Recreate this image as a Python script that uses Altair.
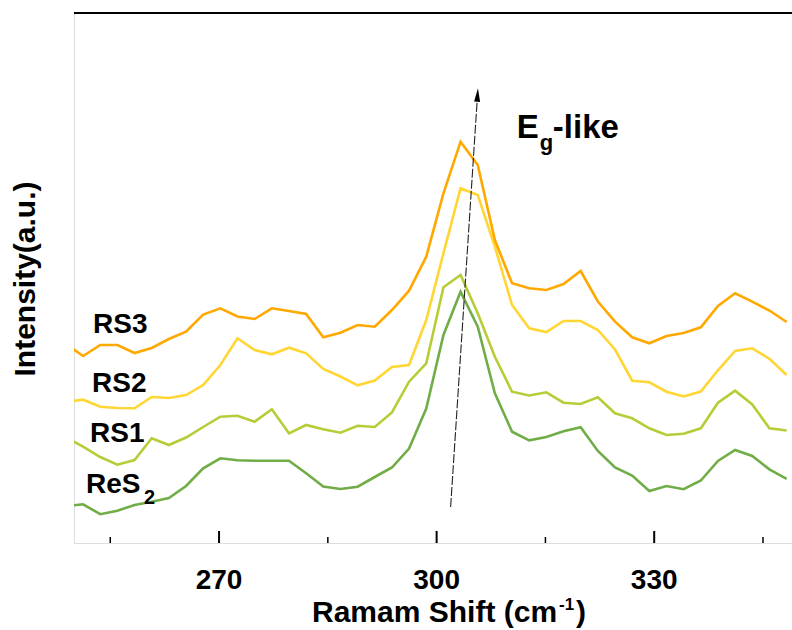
import altair as alt
import pandas as pd

# Raman shift of each sampled point (cm^-1)
shift = [248.88, 251.25, 253.62, 255.98, 258.35, 260.71, 263.08, 265.45, 267.81,
         270.18, 272.54, 274.91, 277.28, 279.64, 282.01, 284.37, 286.74, 289.11,
         291.47, 293.84, 296.20, 298.57, 300.94, 303.30, 305.67, 308.03, 310.40,
         312.77, 315.13, 317.50, 319.86, 322.23, 324.60, 326.96, 329.33, 331.69,
         334.06, 336.43, 338.79, 341.16, 343.52, 345.89, 348.26]

# Stacked spectra (arbitrary units, offset for display)
res2 = [37, 38.7, 28.8, 32.3, 38, 41.3, 45, 57, 74.7, 84.7, 82.7, 82.3, 82.3, 82.3,
        69.7, 56.5, 54, 56.3, 66, 75.5, 94.5, 134.5, 208, 251.3, 216.3, 149.7, 111.3,
        102.7, 106, 111.7, 115.7, 92, 75.5, 67.5, 52, 57, 53.8, 62.5, 82, 93, 87,
        73.7, 64.2]
rs1 = [105.5, 96.3, 86, 78.3, 83, 104.7, 98, 105.5, 116, 126.3, 127.2, 121.3, 133.7,
       109.7, 118, 113.7, 110.3, 117.2, 116, 130.5, 161.3, 179.7, 255.7, 268, 229.7,
       186.3, 151.3, 147.5, 150.7, 140.3, 139, 145.7, 129.7, 124.7, 114.7, 108, 109.3,
       114.7, 140.3, 152.3, 138.5, 114.7, 112.5]
rs2 = [141, 143.3, 136.3, 135, 134.7, 146, 145, 148, 158, 178, 204.7, 193, 188.7,
       195.3, 189.7, 174, 166.5, 157.7, 162.5, 176, 178, 223, 289.7, 354.7, 348, 296.3,
       238, 214.7, 211, 222, 222, 213, 193.5, 162.3, 160.7, 151.3, 146.5, 151.5, 172.7,
       192, 194.7, 184.2, 168]
rs3 = [199, 187, 198, 198, 190, 195, 204, 211.3, 228.5, 234.7, 226.5, 224, 234.7,
       232, 229, 205.7, 210.3, 218, 216.3, 233, 252.3, 286.3, 349.7, 401.3, 378, 303,
       259.7, 254.7, 253, 259, 272, 241.5, 221.3, 205.7, 199.7, 207, 210, 215.7, 237,
       249.7, 241.3, 232.5, 221]

series_names = ["ReS2", "RS1", "RS2", "RS3"]
series_colors = ["#70AD47", "#B8CC37", "#FFD633", "#FFA800"]

major_ticks = [270, 300, 330]
tick_labels = ["270", "300", "330"]
minor_ticks = [255, 285, 315, 345]

# Sample labels placed at the left of each trace
label_text = ["RS3", "RS2", "RS1", "ReS"]
label_x = [252.62, 252.48, 252.21, 251.65]
label_y = [210, 151, 101, 50]

# Shift arrow of the Eg-like mode
arrow_x = [301.93, 305.64]
arrow_y = [36, 448]

FONT = "Liberation Sans"
W, H = 718, 530
X_DOMAIN = [250, 349]
Y_DOMAIN = [0, 530]

rows = []
for name, vals in zip(series_names, [res2, rs1, rs2, rs3]):
    for s, v in zip(shift, vals):
        rows.append({"shift": s, "intensity": v, "sample": name})
spectra = pd.DataFrame(rows)

xs = alt.Scale(domain=X_DOMAIN, nice=False, zero=False)
ys = alt.Scale(domain=Y_DOMAIN, nice=False, zero=False)

lines = alt.Chart(spectra).mark_line(strokeWidth=2.6, clip=True).encode(
    x=alt.X("shift:Q", scale=xs,
            axis=alt.Axis(labels=False, ticks=False, grid=False, title=None,
                          domainColor="black", domainWidth=2)),
    y=alt.Y("intensity:Q", scale=ys,
            axis=alt.Axis(labels=False, ticks=False, grid=False, title=None,
                          domainColor="black", domainWidth=2)),
    color=alt.Color("sample:N", scale=alt.Scale(domain=series_names, range=series_colors),
                    legend=None),
    detail="sample:N",
)

# Inward-pointing ticks and their labels
major = alt.Chart(pd.DataFrame({"t": major_ticks})).mark_rule(
    color="black", strokeWidth=2).encode(
    x=alt.X("t:Q", scale=xs, axis=None), y=alt.value(H - 12), y2=alt.value(H))
minor = alt.Chart(pd.DataFrame({"t": minor_ticks})).mark_rule(
    color="black", strokeWidth=1.5).encode(
    x=alt.X("t:Q", scale=xs, axis=None), y=alt.value(H - 6), y2=alt.value(H))
tick_text = alt.Chart(pd.DataFrame({"t": major_ticks, "s": tick_labels})).mark_text(
    font=FONT, fontSize=28, fontWeight="bold", align="center", baseline="alphabetic",
    color="black").encode(
    x=alt.X("t:Q", scale=xs, axis=None), y=alt.value(H + 46), text="s:N")

top_border = alt.Chart(pd.DataFrame({"a": [0]})).mark_rule(
    color="black", strokeWidth=2).encode(
    x=alt.value(0), x2=alt.value(W), y=alt.value(0))

arrow_df = pd.DataFrame({"x": arrow_x, "y": arrow_y})
arrow_line = alt.Chart(arrow_df).mark_line(
    color="#222222", strokeWidth=1.1, strokeDash=[9, 2]).encode(
    x=alt.X("x:Q", scale=xs, axis=None), y=alt.Y("y:Q", scale=ys, axis=None))
arrow_head = alt.Chart(arrow_df.tail(1)).mark_point(
    shape="M0,-1L0.45,1L-0.45,1Z", filled=True, color="black", opacity=1,
    size=180, angle=3.75).encode(
    x=alt.X("x:Q", scale=xs, axis=None), y=alt.Y("y:Q", scale=ys, axis=None))

labels = alt.Chart(pd.DataFrame({"t": label_text, "x": label_x, "y": label_y})).mark_text(
    font=FONT, fontSize=28, fontWeight="bold", align="left", baseline="alphabetic",
    color="black").encode(
    x=alt.X("x:Q", scale=xs, axis=None), y=alt.Y("y:Q", scale=ys, axis=None), text="t:N")
sub2 = alt.Chart(pd.DataFrame({"t": ["2"], "x": [259.65], "y": [39]})).mark_text(
    font=FONT, fontSize=20, fontWeight="bold", align="left", baseline="alphabetic",
    color="black").encode(
    x=alt.X("x:Q", scale=xs, axis=None), y=alt.Y("y:Q", scale=ys, axis=None), text="t:N")

mode_big = alt.Chart(pd.DataFrame({"t": ["E", "-like"], "x": [311.06, 316.02],
                                   "y": [405.5, 405.5]})).mark_text(
    font=FONT, fontSize=33, fontWeight="bold", align="left", baseline="alphabetic",
    color="black").encode(
    x=alt.X("x:Q", scale=xs, axis=None), y=alt.Y("y:Q", scale=ys, axis=None), text="t:N")
mode_sub = alt.Chart(pd.DataFrame({"t": ["g"], "x": [314.23], "y": [393]})).mark_text(
    font=FONT, fontSize=22, fontWeight="bold", align="left", baseline="alphabetic",
    color="black").encode(
    x=alt.X("x:Q", scale=xs, axis=None), y=alt.Y("y:Q", scale=ys, axis=None), text="t:N")

# Axis titles (x title carries a superscript)
def title_text(txt, px, py, size, angle=0, align="left"):
    return alt.Chart(pd.DataFrame({"t": [txt]})).mark_text(
        font=FONT, fontSize=size, fontWeight="bold", align=align,
        baseline="alphabetic", angle=angle, color="black").encode(
        x=alt.value(px), y=alt.value(py), text="t:N")

x_title = (title_text("Ramam Shift (cm", 238, 609, 30)
           + title_text("-1", 485, 597, 17)
           + title_text(")", 502, 609, 30))
y_title = title_text("Intensity(a.u.)", -39, 266, 30, angle=270, align="center")

chart = alt.layer(
    lines, major, minor, tick_text, top_border, arrow_line, arrow_head,
    labels, sub2, mode_big, mode_sub, x_title, y_title,
).properties(
    width=W, height=H,
    padding={"left": 74, "top": 13, "right": 0, "bottom": 87},
    autosize=alt.AutoSizeParams(type="none"),
).configure_view(stroke=None).configure(background="white")

chart.save("out.html", embed_options={"renderer": "svg", "actions": False})
